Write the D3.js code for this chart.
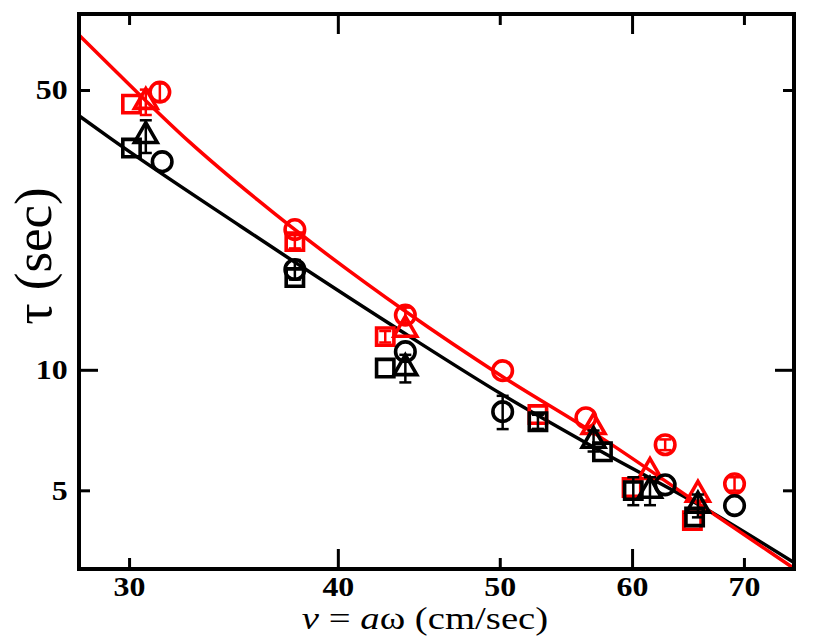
<!DOCTYPE html>
<html>
<head>
<meta charset="utf-8">
<script src="https://cdn.jsdelivr.net/npm/d3@7/dist/d3.min.js"></script>
<style>
    body { margin: 0; background: #fff; }
</style>
</head>
<body>
<div id="chart"></div>
<script>
"use strict";

const serif = "'Liberation Serif', 'Times New Roman', Times, serif";

// measured points, tau in sec against v = a*omega in cm/sec
const redSquareV   = [30.1, 37.7, 42.7, 52.7, 60.0, 65.2];
const redSquareTau = [46.1, 20.9, 12.1, 7.73, 5.08, 4.20];
const redSquareErr = [0, 0.8, 0.4, 0, 0, 0];

const redTriangleV   = [30.7, 43.9, 56.9, 61.5, 65.7];
const redTriangleTau = [46.7, 12.6, 7.20, 5.56, 4.88];
const redTriangleErr = [3.4, 0, 0, 0, 0];

const redCircleV   = [31.3, 37.7, 43.9, 50.2, 56.3, 62.8, 69.1];
const redCircleTau = [49.4, 22.4, 13.7, 9.95, 7.59, 6.50, 5.19];
const redCircleErr = [2.5, 0, 0.6, 0, 0, 0.2, 0.2];

const blackSquareV   = [30.1, 37.7, 42.7, 52.7, 57.6, 60.1, 65.4];
const blackSquareTau = [35.8, 17.0, 10.1, 7.42, 6.24, 4.99, 4.29];
const blackSquareErr = [0, 0, 0, 0.3, 0, 0.4, 0];

const blackTriangleV   = [30.7, 43.9, 56.9, 61.5, 65.7];
const blackTriangleTau = [38.4, 10.1, 6.65, 4.99, 4.58];
const blackTriangleErr = [3.6, 0.8, 0.4, 0.4, 0.3];

const blackCircleV   = [31.4, 37.7, 43.9, 50.2, 62.8, 69.1];
const blackCircleTau = [33.1, 17.8, 11.1, 7.86, 5.16, 4.58];
const blackCircleErr = [0, 1.0, 0, 0.75, 0, 0];

// fitted curves
const redFitV   = [28.0, 29.4, 32.6, 35.8, 43.9, 50.2, 57.4, 65.9, 75.0];
const redFitTau = [68.6, 56.1, 37.1, 26.6, 14.0, 9.61, 6.80, 4.60, 3.19];
const blackFitV   = [28.0, 29.2, 35.0, 43.9, 50.2, 57.4, 65.9, 75.0];
const blackFitTau = [43.1, 38.0, 22.8, 12.3, 8.66, 6.28, 4.58, 3.30];

const xMajor = [40, 60];
const xMinor = [30, 50, 70];
const xLabels = [30, 40, 50, 60, 70];
const yMajor = [10];
const yMinor = [5, 50];
const yLabels = [5, 10, 50];

const margin = {
    top   : 14,
    right : 36,
    bottom: 67,
    left  : 79
};
const width = 830 - margin.left - margin.right;
const height = 636 - margin.top - margin.bottom;

const xScale = d3.scaleLog()
                 .domain([28, 75])
                 .range([0, width]);
const yScale = d3.scaleLog()
                 .domain([3.18, 77.4])
                 .range([height, 0]);

const svg = d3.select("#chart").append("svg")
              .attr("width", 830)
              .attr("height", 636);
const plot = svg.append("g")
                .attr("transform", `translate(${margin.left}, ${margin.top})`);

plot.append("clipPath")
    .attr("id", "clip")
    .append("rect")
    .attr("width", width)
    .attr("height", height);

const zip = (v, tau, err) => v.map((d, i) => ({ v: d, tau: tau[i], err: err ? err[i] : 0 }));

// fit lines
const line = d3.line()
               .x(d => xScale(d.v))
               .y(d => yScale(d.tau))
               .curve(d3.curveMonotoneX);
const lines = plot.append("g").attr("clip-path", "url(#clip)");
lines.append("path")
     .datum(zip(blackFitV, blackFitTau))
     .attr("d", line)
     .attr("fill", "none")
     .attr("stroke", "#000")
     .attr("stroke-width", 3.5);
lines.append("path")
     .datum(zip(redFitV, redFitTau))
     .attr("d", line)
     .attr("fill", "none")
     .attr("stroke", "#ff0000")
     .attr("stroke-width", 3.5);

const series = [
    { color: "#ff0000", shape: d3.symbolSquare,   size: 300, data: zip(redSquareV, redSquareTau, redSquareErr) },
    { color: "#ff0000", shape: d3.symbolTriangle, size: 225, data: zip(redTriangleV, redTriangleTau, redTriangleErr) },
    { color: "#ff0000", shape: d3.symbolCircle,   size: 300, data: zip(redCircleV, redCircleTau, redCircleErr) },
    { color: "#000",    shape: d3.symbolSquare,   size: 300, data: zip(blackSquareV, blackSquareTau, blackSquareErr) },
    { color: "#000",    shape: d3.symbolTriangle, size: 225, data: zip(blackTriangleV, blackTriangleTau, blackTriangleErr) },
    { color: "#000",    shape: d3.symbolCircle,   size: 300, data: zip(blackCircleV, blackCircleTau, blackCircleErr) }
];

series.forEach(s => {
    const g = plot.append("g")
                  .attr("stroke", s.color)
                  .attr("fill", "none");
    const bars = g.selectAll(".err")
                  .data(s.data.filter(d => d.err > 0))
                  .enter()
                  .append("g")
                  .attr("class", "err")
                  .attr("stroke-width", 2.5);
    bars.append("line")
        .attr("x1", d => xScale(d.v))
        .attr("x2", d => xScale(d.v))
        .attr("y1", d => yScale(d.tau - d.err))
        .attr("y2", d => yScale(d.tau + d.err));
    [-1, 1].forEach(sign => {
        bars.append("line")
            .attr("x1", d => xScale(d.v) - 6)
            .attr("x2", d => xScale(d.v) + 6)
            .attr("y1", d => yScale(d.tau + sign * d.err))
            .attr("y2", d => yScale(d.tau + sign * d.err));
    });
    g.selectAll(".dot")
     .data(s.data)
     .enter()
     .append("path")
     .attr("class", "dot")
     .attr("d", d3.symbol().type(s.shape).size(s.size))
     .attr("transform", d => `translate(${xScale(d.v)}, ${yScale(d.tau)})`)
     .attr("stroke-width", 3.6);
});

// ticks pointing inward on all four sides
const tickLines = (axis, values, size, transform) => {
    plot.append("g")
        .attr("transform", transform)
        .call(axis.tickValues(values).tickSize(-size).tickFormat(""))
        .call(g => g.select(".domain").remove())
        .call(g => g.selectAll("line").attr("stroke-width", 3));
};
tickLines(d3.axisBottom(xScale), xMajor, 20, `translate(0, ${height})`);
tickLines(d3.axisBottom(xScale), xMinor, 11, `translate(0, ${height})`);
tickLines(d3.axisTop(xScale), xMajor, 20, "translate(0, 0)");
tickLines(d3.axisTop(xScale), xMinor, 11, "translate(0, 0)");
tickLines(d3.axisLeft(yScale), yMajor, 19, "translate(0, 0)");
tickLines(d3.axisLeft(yScale), yMinor, 11, "translate(0, 0)");
tickLines(d3.axisRight(yScale), yMajor, 19, `translate(${width}, 0)`);
tickLines(d3.axisRight(yScale), yMinor, 11, `translate(${width}, 0)`);

// tick labels, a little wider than the font as in the original
const styleLabels = g => g.selectAll("text")
                          .attr("font-family", serif)
                          .attr("font-size", 28)
                          .attr("font-weight", "bold")
                          .attr("fill", "#000")
                          .attr("transform", "scale(1.14, 1)");
plot.append("g")
    .attr("transform", `translate(0, ${height})`)
    .call(d3.axisBottom(xScale).tickValues(xLabels).tickSize(0).tickPadding(7).tickFormat(d3.format("d")))
    .call(g => g.select(".domain").remove())
    .call(styleLabels);
plot.append("g")
    .call(d3.axisLeft(yScale).tickValues(yLabels).tickSize(0).tickPadding(10).tickFormat(d3.format("d")))
    .call(g => g.select(".domain").remove())
    .call(styleLabels);

// frame
plot.append("rect")
    .attr("width", width)
    .attr("height", height)
    .attr("fill", "none")
    .attr("stroke", "#000")
    .attr("stroke-width", 4);

// axis titles
const xTitle = svg.append("text")
                  .attr("transform", "translate(425, 629) scale(1.25, 1)")
                  .attr("text-anchor", "middle")
                  .attr("font-family", serif)
                  .attr("font-size", 31);
xTitle.append("tspan").attr("font-style", "italic").text("v");
xTitle.append("tspan").text(" = ");
xTitle.append("tspan").attr("font-style", "italic").text("a");
xTitle.append("tspan").text("ω (cm/sec)");

svg.append("text")
   .attr("transform", "translate(51, 256) rotate(-90)")
   .attr("text-anchor", "middle")
   .attr("font-family", serif)
   .attr("font-size", 53)
   .text("τ (sec)");
</script>
</body>
</html>
